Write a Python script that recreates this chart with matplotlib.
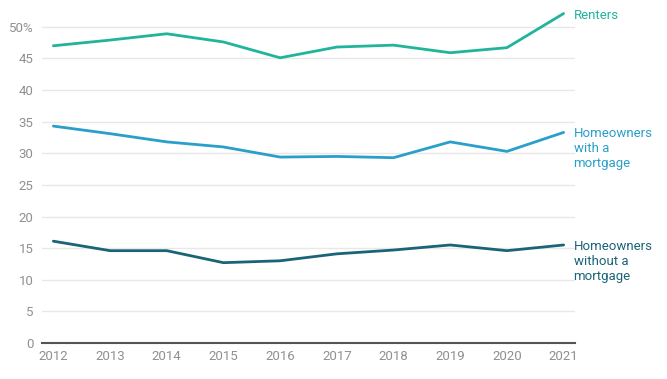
import matplotlib.pyplot as plt

plt.rcParams['font.family'] = ['Roboto', 'DejaVu Sans']

years = [2012, 2013, 2014, 2015, 2016, 2017, 2018, 2019, 2020, 2021]
renters = [47.0, 47.9, 48.9, 47.6, 45.1, 46.8, 47.1, 45.9, 46.7, 52.1]
with_mortgage = [34.3, 33.1, 31.8, 31.0, 29.4, 29.5, 29.3, 31.8, 30.3, 33.3]
without_mortgage = [16.1, 14.6, 14.6, 12.7, 13.0, 14.1, 14.7, 15.5, 14.6, 15.5]

series = [
    ("Renters", renters, "#20b59a"),
    ("Homeowners\nwith a\nmortgage", with_mortgage, "#2a9fc9"),
    ("Homeowners\nwithout a\nmortgage", without_mortgage, "#1b6478"),
]

fig = plt.figure(figsize=(6.67, 3.79), dpi=100)
ax = fig.add_axes([0.063, 0.095, 0.799, 0.876])

for label, vals, color in series:
    ax.plot(years, vals, color=color, lw=2, solid_capstyle='round', zorder=3)
    ax.annotate(label, xy=(years[-1], vals[-1]), xytext=(10, 5),
                textcoords='offset pixels', ha='left', va='top',
                color=color, fontsize=9.5, linespacing=1.2,
                annotation_clip=False)

ax.set_xlim(2011.8, 2021.2)
ax.set_ylim(0, 52.5)
ax.set_yticks(range(0, 51, 5))
ax.set_yticklabels([str(v) if v < 50 else "50%" for v in range(0, 51, 5)])
ax.set_xticks(years)
ax.set_xticklabels([str(y) for y in years])

ax.grid(axis='y', color='#e8e8e8', lw=1)
ax.set_axisbelow(True)
for s in ['top', 'right', 'left']:
    ax.spines[s].set_visible(False)
ax.spines['bottom'].set_color('#555555')
ax.spines['bottom'].set_linewidth(1.5)
ax.tick_params(axis='both', length=0, labelsize=9.5, labelcolor='#909090')
ax.tick_params(axis='y', pad=6)
ax.tick_params(axis='x', pad=5)

fig.savefig("out.png", dpi=100)
